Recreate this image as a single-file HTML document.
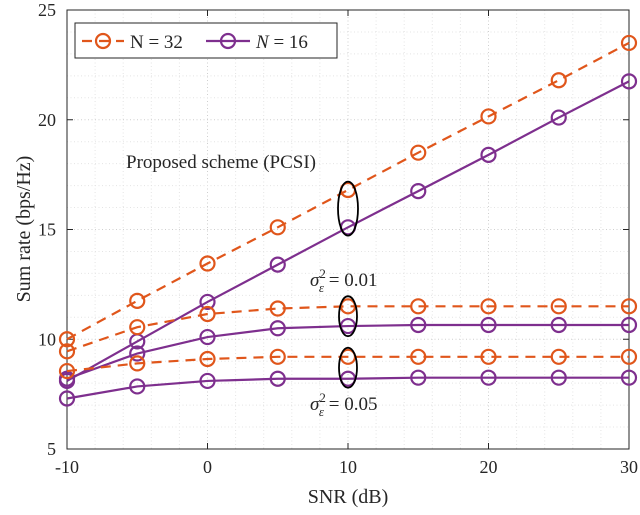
<!DOCTYPE html>
<html><head><meta charset="utf-8"><style>body{margin:0;background:#fff}svg{display:block}text{font-family:"Liberation Serif",serif;fill:#262626}</style></head>
<body>
<svg id="chart" width="640" height="515" viewBox="0 0 640 515"></svg>
<script>
const snr=[-10,-5,0,5,10,15,20,25,30];
const n32Pcsi=[10.0,11.75,13.45,15.1,16.8,18.5,20.15,21.8,23.5];
const n16Pcsi=[8.1,9.9,11.7,13.4,15.1,16.75,18.4,20.1,21.75];
const n32Eps01=[9.45,10.55,11.15,11.4,11.5,11.5,11.5,11.5,11.5];
const n16Eps01=[8.2,9.35,10.1,10.5,10.6,10.65,10.65,10.65,10.65];
const n32Eps05=[8.55,8.9,9.1,9.2,9.2,9.2,9.2,9.2,9.2];
const n16Eps05=[7.3,7.85,8.1,8.2,8.2,8.25,8.25,8.25,8.25];
const xTicks=[-10,0,10,20,30];
const yTicks=[5,10,15,20,25];
const NS='http://www.w3.org/2000/svg';
const svg=document.getElementById('chart');
const X0=67,X1=629,Y0=449,Y1=10;
const xs=v=>X0+(v+10)/40*(X1-X0);
const ys=v=>Y0-(v-5)/20*(Y0-Y1);
function el(t,a,p){const e=document.createElementNS(NS,t);for(const k in a)e.setAttribute(k,a[k]);(p||svg).appendChild(e);return e;}
const grid=el('g',{});


for(let v=-10;v<=30;v+=2){el('line',{x1:xs(v),x2:xs(v),y1:Y1,y2:Y0,stroke:v%10==0?'#cfcfcf':'#e4e4e4','stroke-dasharray':'1,2.5','stroke-width':1},grid);}
for(let v=5;v<=25;v+=1){el('line',{x1:X0,x2:X1,y1:ys(v),y2:ys(v),stroke:v%5==0?'#cfcfcf':'#e4e4e4','stroke-dasharray':'1,2.5','stroke-width':1},grid);}
const ax=el('g',{});


el('rect',{x:X0,y:Y1,width:X1-X0,height:Y0-Y1,fill:'none',stroke:'#262626','stroke-width':1},ax);
xTicks.forEach(v=>{el('line',{x1:xs(v),x2:xs(v),y1:Y0,y2:Y0-6,stroke:'#262626'},ax);el('line',{x1:xs(v),x2:xs(v),y1:Y1,y2:Y1+6,stroke:'#262626'},ax);
const t=el('text',{x:xs(v),y:473,'text-anchor':'middle','font-size':18},ax);t.textContent=v;

});
yTicks.forEach(v=>{el('line',{x1:X0,x2:X0+6,y1:ys(v),y2:ys(v),stroke:'#262626'},ax);el('line',{x1:X1,x2:X1-6,y1:ys(v),y2:ys(v),stroke:'#262626'},ax);
const t=el('text',{x:56,y:ys(v)+6,'text-anchor':'end','font-size':18},ax);t.textContent=v;

});
const xt=el('text',{x:348,y:503,'text-anchor':'middle','font-size':20});xt.textContent='SNR (dB)';


const yt=el('text',{x:0,y:0,'text-anchor':'middle','font-size':20,transform:'translate(30,229) rotate(-90)'});yt.textContent='Sum rate (bps/Hz)';


const OR='#e0561b',PU='#7e2f8e';
function series(vals,color,dash,name){const g=el('g',{});


el('polyline',{points:vals.map((v,i)=>xs(snr[i])+','+ys(v)).join(' '),fill:'none',stroke:color,'stroke-width':2.2,'stroke-dasharray':dash?'10,7':'none'},g);
vals.forEach((v,i)=>{const c=el('circle',{cx:xs(snr[i]),cy:ys(v),r:7,fill:'none',stroke:color,'stroke-width':2.2},g);

});}
series(n32Pcsi,OR,true,'series-n32-pcsi');
series(n16Pcsi,PU,false,'series-n16-pcsi');
series(n32Eps01,OR,true,'series-n32-eps001');
series(n16Eps01,PU,false,'series-n16-eps001');
series(n32Eps05,OR,true,'series-n32-eps005');
series(n16Eps05,PU,false,'series-n16-eps005');
// annotations
const an=el('g',{});


el('ellipse',{cx:xs(10),cy:ys((n32Pcsi[4]+n16Pcsi[4])/2),rx:10,ry:27,fill:'none',stroke:'#000','stroke-width':1.8},an);
el('ellipse',{cx:xs(10),cy:ys((n32Eps01[4]+n16Eps01[4])/2),rx:9,ry:20,fill:'none',stroke:'#000','stroke-width':1.8},an);
el('ellipse',{cx:xs(10),cy:ys((n32Eps05[4]+n16Eps05[4])/2),rx:9,ry:20,fill:'none',stroke:'#000','stroke-width':1.8},an);
let t=el('text',{x:126,y:168,'font-size':19},an);t.textContent='Proposed scheme (PCSI)';
t=el('text',{x:310,y:286,'font-size':19,'font-style':'italic'},an);t.innerHTML='σ<tspan dy="-8" font-size="13" font-style="normal">2</tspan><tspan dx="-7" dy="14" font-size="13">ε</tspan><tspan dy="-6" font-style="normal"> = 0.01</tspan>';
t=el('text',{x:310,y:410,'font-size':19,'font-style':'italic'},an);t.innerHTML='σ<tspan dy="-8" font-size="13" font-style="normal">2</tspan><tspan dx="-7" dy="14" font-size="13">ε</tspan><tspan dy="-6" font-style="normal"> = 0.05</tspan>';
// legend
const lg=el('g',{});


el('rect',{x:75,y:23,width:262,height:35,fill:'#fff',stroke:'#262626','stroke-width':1},lg);
el('line',{x1:82,x2:124,y1:41,y2:41,stroke:OR,'stroke-width':2.2,'stroke-dasharray':'10,7'},lg);
el('circle',{cx:103,cy:41,r:7,fill:'none',stroke:OR,'stroke-width':2.2},lg);
t=el('text',{x:130,y:48,'font-size':19},lg);t.textContent='N = 32';
el('line',{x1:206,x2:250,y1:41,y2:41,stroke:PU,'stroke-width':2.2},lg);
el('circle',{cx:228,cy:41,r:7,fill:'none',stroke:PU,'stroke-width':2.2},lg);
t=el('text',{x:256,y:48,'font-size':19},lg);t.innerHTML='<tspan font-style="italic">N</tspan> = 16';
</script>
</body></html>
